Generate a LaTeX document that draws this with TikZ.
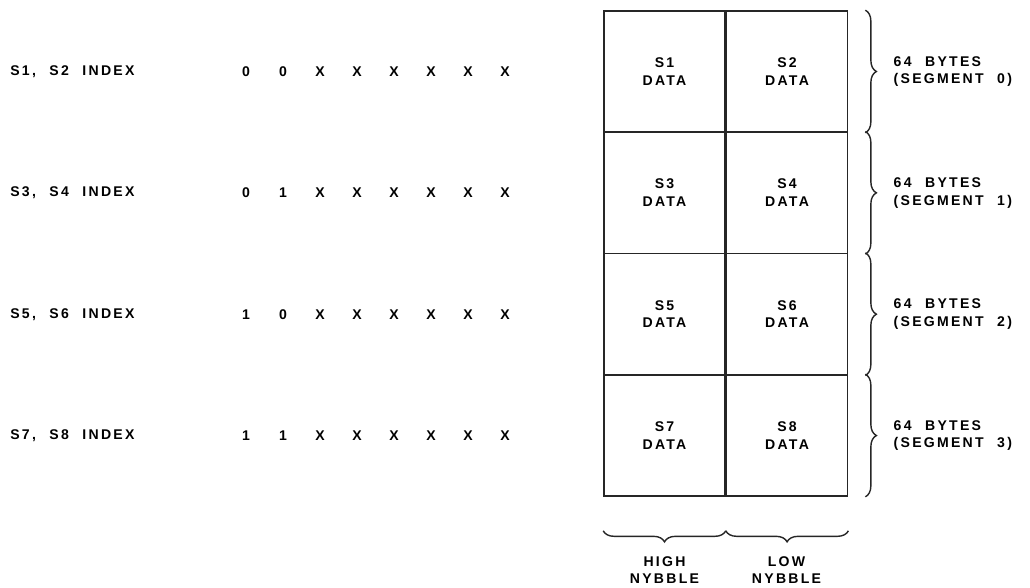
\documentclass[tikz,border=0pt]{standalone}
\usepackage{fontspec}
\setmainfont[LetterSpace=16,WordSpace=2.2]{Liberation Sans}
\usetikzlibrary{positioning,decorations.pathreplacing}

\begin{document}
\begin{tikzpicture}[
  font=\bfseries\fontsize{8}{10}\selectfont,
  cell/.style={rectangle, draw=black!85, line width=0.9pt, minimum width=2.42cm,
               minimum height=2.42cm, inner sep=0pt, align=center},
  lbl/.style={anchor=west, inner sep=0pt},
  bit/.style={inner sep=0pt},
  seg/.style={anchor=west, align=left, inner sep=0pt},
  nyb/.style={align=center, inner sep=0pt},
  brc/.style={decorate, decoration={brace, amplitude=0.22cm}, draw=black!85, line width=0.8pt}
]
\useasboundingbox (0,0) rectangle (20.6,11.76);

% memory map: one row per pair of sensors
\foreach \r/\a/\b/\p/\q in {0/1/2/0/0, 1/3/4/0/1, 2/5/6/1/0, 3/7/8/1/1}{
  \node[cell] (hi\r) at (13.29, 10.33-\r*2.427) {S\a\\DATA};
  \node[cell, right=0pt of hi\r] (lo\r) {S\b\\DATA};
  \node[lbl] (idx\r) at (0.2, 10.33-\r*2.427) {S\a, S\b{} INDEX};
  \node[bit] (p\r) at (4.92, 10.33-\r*2.427) {\p};
  \node[bit] (q\r) at (5.66, 10.33-\r*2.427) {\q};
  \foreach \k in {2,...,7}
    \node[bit] (x\r\k) at (4.92+\k*0.74, 10.33-\r*2.427) {X};
  \draw[brc] ([xshift=0.34cm]lo\r.north east) -- ([xshift=0.34cm]lo\r.south east);
  \node[seg] (sz\r) at ([xshift=0.9cm]lo\r.east) {64 BYTES\\(SEGMENT \r)};
}

% nybble braces under the map
\draw[brc] ([yshift=-0.68cm]hi3.south east) -- ([yshift=-0.68cm]hi3.south west);
\draw[brc] ([yshift=-0.68cm]lo3.south east) -- ([yshift=-0.68cm]lo3.south west);
\node[nyb] (hn) at (13.29, 0.36) {HIGH\\NYBBLE};
\node[nyb] (ln) at (15.73, 0.36) {LOW\\NYBBLE};
\end{tikzpicture}
\end{document}
